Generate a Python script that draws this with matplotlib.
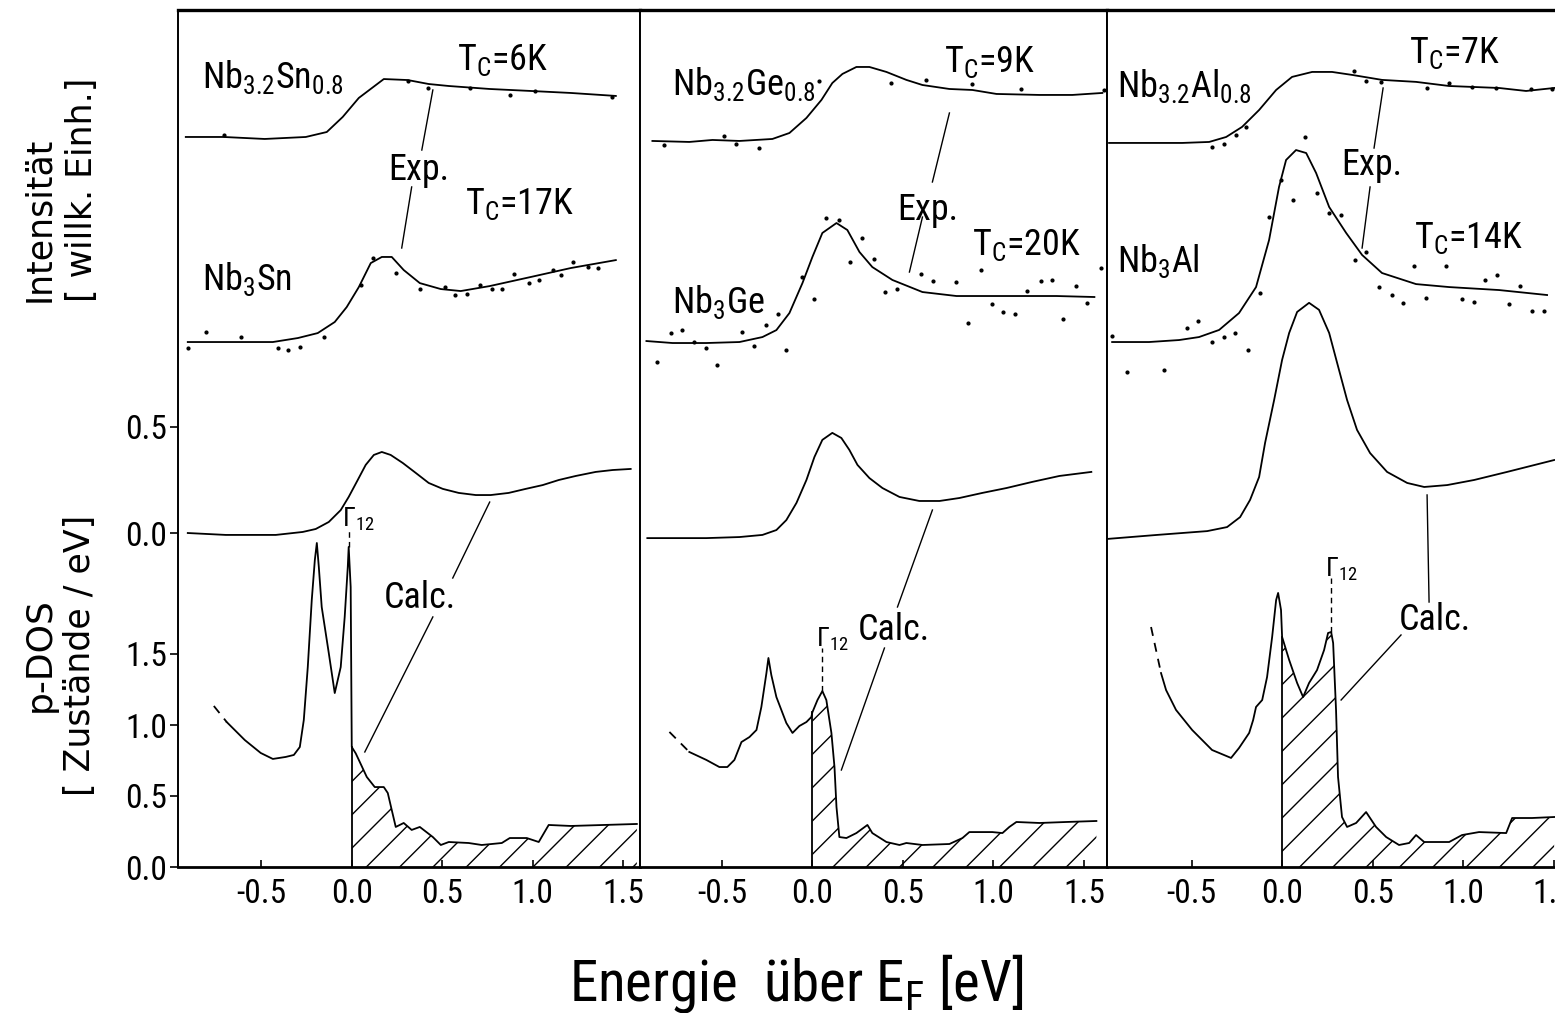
import matplotlib
matplotlib.use("Agg")
import matplotlib.pyplot as plt
from matplotlib import font_manager
import numpy as np

# ---------------- data (energy in eV relative to E_F) ----------------
# Nb3Sn, unbroadened p-DOS (states/eV)
sn_dos_x = [-0.691, -0.591, -0.503, -0.436, -0.365, -0.320, -0.287, -0.265, -0.243, -0.221,
            -0.204, -0.193, -0.182, -0.166, -0.127, -0.094, -0.061, -0.039, -0.022, -0.017,
            -0.006, 0.0, 0.022, 0.039, 0.083, 0.127, 0.177, 0.199, 0.221, 0.243, 0.287, 0.331,
            0.376, 0.448, 0.492, 0.536, 0.646, 0.718, 0.829, 0.873, 0.967, 1.033, 1.088, 1.210, 1.575]
sn_dos_y = [1.021, 0.894, 0.803, 0.761, 0.775, 0.789, 0.845, 1.035, 1.408, 1.880,
            2.162, 2.282, 2.113, 1.831, 1.507, 1.225, 1.408, 1.761, 2.113, 2.254,
            1.972, 0.845, 0.800, 0.754, 0.634, 0.563, 0.563, 0.521, 0.401, 0.282, 0.310, 0.261,
            0.282, 0.211, 0.155, 0.176, 0.169, 0.155, 0.169, 0.204, 0.204, 0.176, 0.296, 0.289, 0.303]
sn_dash_x = [-0.762, -0.691]
sn_dash_y = [1.134, 1.021]
sn_gamma = (-0.017, 2.254)
# Nb3Sn, broadened p-DOS
sn_brd_x = [-0.906, -0.696, -0.420, -0.271, -0.199, -0.127, -0.061, -0.017, 0.033, 0.077,
            0.122, 0.166, 0.215, 0.282, 0.354, 0.425, 0.503, 0.591, 0.685, 0.768, 0.867,
            0.961, 1.055, 1.144, 1.238, 1.348, 1.442, 1.541]
sn_brd_y = [0.0, -0.009, -0.009, 0.005, 0.019, 0.052, 0.108, 0.170, 0.250, 0.321,
            0.368, 0.382, 0.368, 0.330, 0.283, 0.236, 0.208, 0.189, 0.179, 0.179, 0.189,
            0.208, 0.226, 0.250, 0.269, 0.288, 0.297, 0.302]
# Nb3.2Sn0.8 experiment (arb. units)
sn32_exp_x = [-0.917, -0.707, -0.481, -0.254, -0.138, -0.050, 0.039, 0.177, 0.309, 0.425,
              0.536, 0.762, 0.989, 1.210, 1.459]
sn32_exp_y = [0.0, 0.0, -0.014, 0.0, 0.035, 0.141, 0.275, 0.408, 0.401, 0.373,
              0.359, 0.338, 0.324, 0.310, 0.289]
sn32_dot_x = [-0.707, 0.309, 0.420, 0.652, 0.873, 1.010, 1.440]
sn32_dot_y = [0.014, 0.394, 0.345, 0.345, 0.296, 0.324, 0.282]
# Nb3Sn experiment
sn_exp_x = [-0.906, -0.680, -0.436, -0.298, -0.188, -0.094, -0.028, 0.039, 0.105, 0.166,
            0.221, 0.287, 0.376, 0.492, 0.602, 0.762, 0.989, 1.210, 1.459]
sn_exp_y = [0.0, 0.0, 0.0, 0.028, 0.063, 0.141, 0.246, 0.387, 0.556, 0.599,
            0.599, 0.507, 0.415, 0.373, 0.359, 0.394, 0.458, 0.521, 0.577]
sn_dot_x = [-0.807, -0.906, -0.613, -0.409, -0.354, -0.287, -0.155, 0.050, 0.116, 0.243, 0.376,
            0.514, 0.569, 0.635, 0.707, 0.773, 0.829, 0.895, 0.978, 1.033, 1.110, 1.155, 1.221,
            1.304, 1.359]
sn_dot_y = [0.070, -0.042, 0.035, -0.042, -0.056, -0.035, 0.035, 0.401, 0.592, 0.486, 0.373,
            0.387, 0.331, 0.338, 0.401, 0.373, 0.373, 0.479, 0.415, 0.437, 0.507, 0.472, 0.563,
            0.528, 0.521]

# Nb3Ge
ge_dos_x = [-0.680, -0.586, -0.514, -0.470, -0.431, -0.392, -0.348, -0.309, -0.282, -0.254,
            -0.243, -0.227, -0.199, -0.144, -0.110, -0.072, -0.033, -0.006, 0.0, 0.028, 0.055,
            0.077, 0.105, 0.122, 0.133, 0.149, 0.188, 0.243, 0.304, 0.331, 0.409, 0.481, 0.519,
            0.608, 0.757, 0.829, 0.867, 0.994, 1.050, 1.088, 1.127, 1.254, 1.403, 1.569]
ge_dos_y = [0.810, 0.754, 0.704, 0.704, 0.754, 0.880, 0.915, 0.965, 1.127, 1.366,
            1.472, 1.352, 1.197, 1.014, 0.944, 0.993, 1.021, 1.056, 1.090, 1.176, 1.239,
            1.176, 0.944, 0.704, 0.423, 0.211, 0.204, 0.239, 0.296, 0.239, 0.176, 0.155, 0.169,
            0.155, 0.162, 0.204, 0.246, 0.246, 0.239, 0.282, 0.317, 0.310, 0.317, 0.324]
ge_dash_x = [-0.790, -0.680]
ge_dash_y = [0.951, 0.810]
ge_gamma = (0.055, 1.239)
ge_brd_x = [-0.912, -0.586, -0.403, -0.276, -0.199, -0.144, -0.088, -0.033, 0.011, 0.055,
            0.110, 0.160, 0.204, 0.249, 0.315, 0.387, 0.481, 0.591, 0.702, 0.812, 0.939,
            1.072, 1.215, 1.365, 1.541]
ge_brd_y = [-0.024, -0.024, -0.019, -0.009, 0.014, 0.061, 0.142, 0.250, 0.358, 0.439,
            0.472, 0.448, 0.392, 0.321, 0.259, 0.212, 0.170, 0.151, 0.151, 0.165, 0.189,
            0.212, 0.241, 0.269, 0.288]
ge32_exp_x = [-0.884, -0.680, -0.552, -0.403, -0.221, -0.127, -0.033, 0.050, 0.110, 0.166,
              0.243, 0.315, 0.409, 0.519, 0.608, 0.757, 0.884, 1.017, 1.254, 1.436, 1.602]
ge32_exp_y = [0.0, -0.007, 0.007, 0.0, 0.014, 0.056, 0.162, 0.289, 0.408, 0.472,
              0.521, 0.521, 0.486, 0.430, 0.394, 0.366, 0.359, 0.331, 0.324, 0.324, 0.338]
ge32_dot_x = [-0.818, -0.486, -0.420, -0.293, 0.039, 0.436, 0.630, 0.884, 1.155, 1.613]
ge32_dot_y = [-0.028, 0.035, -0.021, -0.049, 0.423, 0.408, 0.430, 0.401, 0.366, 0.359]
ge_exp_x = [-0.917, -0.773, -0.586, -0.403, -0.276, -0.199, -0.127, -0.055, 0.0, 0.055,
            0.133, 0.193, 0.260, 0.331, 0.442, 0.608, 0.796, 1.072, 1.348, 1.558]
ge_exp_y = [0.0, -0.014, -0.014, -0.007, 0.028, 0.077, 0.197, 0.408, 0.592, 0.761,
            0.831, 0.782, 0.627, 0.521, 0.430, 0.345, 0.317, 0.317, 0.317, 0.310]
ge_dot_x = [-0.856, -0.779, -0.718, -0.652, -0.586, -0.525, -0.387, -0.320, -0.254, -0.188,
            -0.144, -0.055, 0.011, 0.077, 0.149, 0.210, 0.276, 0.343, 0.403, 0.470, 0.602,
            0.669, 0.796, 0.862, 0.934, 0.994, 1.055, 1.122, 1.188, 1.265, 1.326, 1.387,
            1.459, 1.519, 1.597]
ge_dot_y = [-0.148, 0.056, 0.077, -0.007, -0.049, -0.169, 0.063, -0.035, 0.113, 0.190,
            -0.063, 0.451, 0.296, 0.866, 0.852, 0.556, 0.725, 0.577, 0.345, 0.366, 0.472,
            0.423, 0.415, 0.127, 0.500, 0.261, 0.204, 0.190, 0.352, 0.423, 0.430, 0.155,
            0.387, 0.268, 0.514]

# Nb3Al
al_dos_x = [-0.669, -0.641, -0.586, -0.497, -0.387, -0.282, -0.238, -0.182, -0.160, -0.144,
            -0.110, -0.083, -0.055, -0.033, -0.022, -0.006, 0.0, 0.039, 0.083, 0.116, 0.149,
            0.193, 0.232, 0.254, 0.271, 0.282, 0.298, 0.309, 0.331, 0.359, 0.409, 0.464, 0.519,
            0.575, 0.646, 0.702, 0.740, 0.785, 0.923, 0.994, 1.088, 1.238, 1.271, 1.381, 1.503]
al_dos_y = [1.366, 1.246, 1.106, 0.965, 0.824, 0.768, 0.838, 0.944, 1.035, 1.127,
            1.176, 1.338, 1.620, 1.880, 1.930, 1.810, 1.620, 1.458, 1.296, 1.197, 1.296,
            1.387, 1.528, 1.648, 1.655, 1.577, 1.106, 0.634, 0.352, 0.282, 0.310, 0.387, 0.282,
            0.211, 0.155, 0.169, 0.225, 0.176, 0.176, 0.225, 0.246, 0.239, 0.345, 0.345, 0.352]
al_dash_x = [-0.724, -0.669]
al_dash_y = [1.690, 1.366]
al_gamma = (0.271, 1.655)
al_brd_x = [-0.967, -0.691, -0.414, -0.304, -0.232, -0.177, -0.127, -0.094, -0.044, 0.0,
            0.039, 0.083, 0.149, 0.204, 0.260, 0.304, 0.359, 0.414, 0.486, 0.580, 0.691,
            0.785, 0.912, 1.061, 1.243, 1.503]
al_brd_y = [-0.028, -0.009, 0.009, 0.028, 0.075, 0.156, 0.264, 0.425, 0.627, 0.816,
            0.943, 1.042, 1.085, 1.052, 0.943, 0.802, 0.627, 0.486, 0.377, 0.288, 0.236,
            0.217, 0.226, 0.250, 0.288, 0.344]
al32_exp_x = [-0.956, -0.735, -0.552, -0.403, -0.309, -0.221, -0.127, -0.033, 0.055, 0.166,
              0.276, 0.387, 0.552, 0.740, 0.923, 1.199, 1.348, 1.503]
al32_exp_y = [0.0, 0.0, 0.0, 0.007, 0.042, 0.113, 0.232, 0.373, 0.465, 0.500,
              0.500, 0.479, 0.444, 0.430, 0.401, 0.387, 0.366, 0.387]
al32_dot_x = [-0.387, -0.320, -0.254, -0.199, 0.398, 0.464, 0.547, 0.801, 0.923, 1.050,
              1.182, 1.376, 1.492]
al32_dot_y = [-0.028, -0.007, 0.056, 0.113, 0.507, 0.437, 0.430, 0.387, 0.423, 0.394,
              0.387, 0.380, 0.380]
al_exp_x = [-0.939, -0.735, -0.569, -0.459, -0.348, -0.238, -0.144, -0.072, -0.017, 0.022,
            0.077, 0.133, 0.188, 0.260, 0.354, 0.442, 0.552, 0.740, 0.923, 1.199, 1.464]
al_exp_y = [0.0, 0.0, 0.014, 0.035, 0.085, 0.204, 0.387, 0.718, 1.092, 1.282,
            1.352, 1.331, 1.190, 0.951, 0.768, 0.613, 0.486, 0.408, 0.387, 0.366, 0.331]
al_dot_x = [-0.939, -0.856, -0.652, -0.525, -0.464, -0.387, -0.320, -0.260, -0.188, -0.122,
            -0.072, -0.006, 0.061, 0.127, 0.193, 0.260, 0.326, 0.403, 0.464, 0.536, 0.608,
            0.669, 0.729, 0.796, 0.906, 0.994, 1.061, 1.122, 1.188, 1.254, 1.315, 1.381, 1.448]
al_dot_y = [0.042, -0.211, -0.197, 0.099, 0.148, 0.0, 0.035, 0.063, -0.056, 0.345,
            0.880, 1.141, 1.000, 1.444, 1.049, 0.908, 0.894, 0.577, 0.634, 0.387, 0.331,
            0.275, 0.535, 0.310, 0.535, 0.303, 0.282, 0.437, 0.472, 0.268, 0.394, 0.218, 0.218]

alloy_labels = [r"$\mathregular{Nb_{3.2}Sn_{0.8}}$", r"$\mathregular{Nb_{3.2}Ge_{0.8}}$",
                r"$\mathregular{Nb_{3.2}Al_{0.8}}$"]
pure_labels = [r"$\mathregular{Nb_3Sn}$", r"$\mathregular{Nb_3Ge}$", r"$\mathregular{Nb_3Al}$"]
tc_alloy = [r"$\mathregular{T_C}$=6K", r"$\mathregular{T_C}$=9K", r"$\mathregular{T_C}$=7K"]
tc_pure = [r"$\mathregular{T_C}$=17K", r"$\mathregular{T_C}$=20K", r"$\mathregular{T_C}$=14K"]
xtick_vals = [-0.5, 0.0, 0.5, 1.0, 1.5]
xtick_text = ["-0.5", "0.0", "0.5", "1.0", "1.5"]

# ---------------- fonts ----------------
names = {f.name for f in font_manager.fontManager.ttflist}
narrow = next((n for n in ["Liberation Sans Narrow", "Roboto Condensed", "Open Sans Condensed"]
               if n in names), "DejaVu Sans")
plt.rcParams["font.family"] = [narrow, "DejaVu Sans"]
plt.rcParams["hatch.linewidth"] = 1.0

fig = plt.figure(figsize=(15.55, 10.13), dpi=100)
W, H = 1555.0, 1013.0
px_per_ev = 181.0
y_bottom, y_top = 867.0, 10.0
units = 142.0                     # px per p-DOS unit
ymax = (y_bottom - y_top) / units
brd0, brd_scale = 2.352, 1.494    # broadened-DOS axis offset and scale
exp_off_alloy = [5.141, 5.113, 5.099]
exp_off_pure = [3.697, 3.704, 3.697]

xlims = [(-0.96, 1.59), (-0.955, 1.63), (-0.965, 1.60)]
left_px = 178.0

panels = [
    dict(dos=(sn_dos_x, sn_dos_y), dash=(sn_dash_x, sn_dash_y), gam=sn_gamma, gtop=2.514,
         brd=(sn_brd_x, sn_brd_y), ea=(sn32_exp_x, sn32_exp_y), da=(sn32_dot_x, sn32_dot_y),
         ep=(sn_exp_x, sn_exp_y), dp=(sn_dot_x, sn_dot_y),
         txt=[(-0.829, 5.486), (0.580, 5.613), (0.199, 4.838), (0.624, 4.599), (-0.829, 4.063), (0.177, 1.824)],
         lead=[((0.448, 5.472), (0.387, 5.049)), ((0.331, 4.789), (0.276, 4.359)),
               ((0.762, 2.570), (0.558, 2.035)), ((0.448, 1.761), (0.072, 0.810))]),
    dict(dos=(ge_dos_x, ge_dos_y), dash=(ge_dash_x, ge_dash_y), gam=ge_gamma, gtop=1.669,
         brd=(ge_brd_x, ge_brd_y), ea=(ge32_exp_x, ge32_exp_y), da=(ge32_dot_x, ge32_dot_y),
         ep=(ge_exp_x, ge_exp_y), dp=(ge_dot_x, ge_dot_y),
         txt=[(-0.773, 5.437), (0.729, 5.599), (0.470, 4.556), (0.884, 4.310), (-0.773, 3.901), (0.249, 1.599)],
         lead=[((0.757, 5.310), (0.663, 4.824)), ((0.608, 4.577), (0.536, 4.190)),
               ((0.663, 2.514), (0.470, 1.831)), ((0.398, 1.542), (0.160, 0.683))]),
    dict(dos=(al_dos_x, al_dos_y), dash=(al_dash_x, al_dash_y), gam=al_gamma, gtop=2.162,
         brd=(al_brd_x, al_brd_y), ea=(al32_exp_x, al32_exp_y), da=(al32_dot_x, al32_dot_y),
         ep=(al_exp_x, al_exp_y), dp=(al_dot_x, al_dot_y),
         txt=[(-0.912, 5.423), (0.702, 5.662), (0.326, 4.873), (0.729, 4.359), (-0.912, 4.190), (0.646, 1.669)],
         lead=[((0.558, 5.486), (0.508, 5.063)), ((0.486, 4.789), (0.442, 4.359)),
               ((0.801, 2.620), (0.812, 1.866)), ((0.657, 1.634), (0.326, 1.176))]),
]

lw = 1.3
fs_txt = 26
for i, p in enumerate(panels):
    x0, x1 = xlims[i]
    wpx = (x1 - x0) * px_per_ev
    ax = fig.add_axes([left_px / W, 1 - y_bottom / H, wpx / W, (y_bottom - y_top) / H])
    left_px += wpx
    ax.set_xlim(x0, x1)
    ax.set_ylim(0, ymax)
    for s in ax.spines.values():
        s.set_linewidth(1.4)
    ax.spines["top"].set_linewidth(2.4)
    ax.spines["bottom"].set_linewidth(2.0)

    # p-DOS with hatched unoccupied part
    dx, dy = np.array(p["dos"][0]), np.array(p["dos"][1])
    ax.plot(dx, dy, color="k", lw=lw)
    ax.plot(p["dash"][0], p["dash"][1], color="k", lw=lw, ls=(0, (5, 4)))
    m = dx >= 0
    ax.fill_between(dx[m], 0, dy[m], facecolor="none", edgecolor="k", lw=0, hatch="/")
    ax.plot([0, 0], [0, np.interp(0, dx[m], dy[m])], color="k", lw=lw)
    gx, gy = p["gam"]
    ax.plot([gx, gx], [gy, p["gtop"] - 0.13], color="k", lw=1.0, ls=(0, (4, 3)))
    ax.text(gx - 0.035, p["gtop"] + 0.03, r"$\mathregular{\Gamma_{12}}$", ha="left", va="top",
            fontsize=19)

    # broadened p-DOS
    ax.plot(p["brd"][0], brd0 + brd_scale * np.array(p["brd"][1]), color="k", lw=lw)

    # experiments
    ax.plot(p["ea"][0], exp_off_alloy[i] + np.array(p["ea"][1]), color="k", lw=lw)
    ax.plot(p["da"][0], exp_off_alloy[i] + np.array(p["da"][1]), "k.", ms=4)
    ax.plot(p["ep"][0], exp_off_pure[i] + np.array(p["ep"][1]), color="k", lw=lw)
    ax.plot(p["dp"][0], exp_off_pure[i] + np.array(p["dp"][1]), "k.", ms=4)

    t = p["txt"]
    strings = [alloy_labels[i], tc_alloy[i], "Exp.", tc_pure[i], pure_labels[i], "Calc."]
    for (tx, ty), s in zip(t, strings):
        ax.text(tx, ty, s, fontsize=fs_txt, ha="left", va="baseline")
    for (a, b) in p["lead"]:
        ax.plot([a[0], b[0]], [a[1], b[1]], color="k", lw=1.0)

    ax.set_xticks(xtick_vals)
    ax.set_xticklabels(xtick_text)
    ax.tick_params(axis="x", direction="in", length=5, width=1.2, labelsize=24, pad=8)
    if i == 0:
        yt = [0, 0.5, 1.0, 1.5, brd0, brd0 + 0.5 * brd_scale]
        ax.set_yticks(yt)
        ax.set_yticklabels(["0.0", "0.5", "1.0", "1.5", "0.0", "0.5"])
        ax.tick_params(axis="y", direction="out", length=6, width=1.2, labelsize=24, pad=2)
    else:
        ax.set_yticks([])

fig.text(39 / W, 1 - 302 / H, "Intensität", rotation=90, ha="center", va="bottom",
         fontsize=25, family="DejaVu Sans")
fig.text(82 / W, 1 - 302 / H, "[ willk. Einh.]", rotation=90, ha="center", va="bottom",
         fontsize=25, family="DejaVu Sans")
fig.text(40 / W, 1 - 655 / H, "p-DOS", rotation=90, ha="center", va="center",
         fontsize=26, family="DejaVu Sans")
fig.text(80 / W, 1 - 655 / H, "[ Zustände / eV]", rotation=90, ha="center", va="center",
         fontsize=25, family="DejaVu Sans")
fig.text(796 / W, 1 - 1000 / H, r"Energie  über $\mathregular{E_F}$ [eV]", ha="center",
         va="baseline", fontsize=41)

fig.savefig("out.png", dpi=100)
